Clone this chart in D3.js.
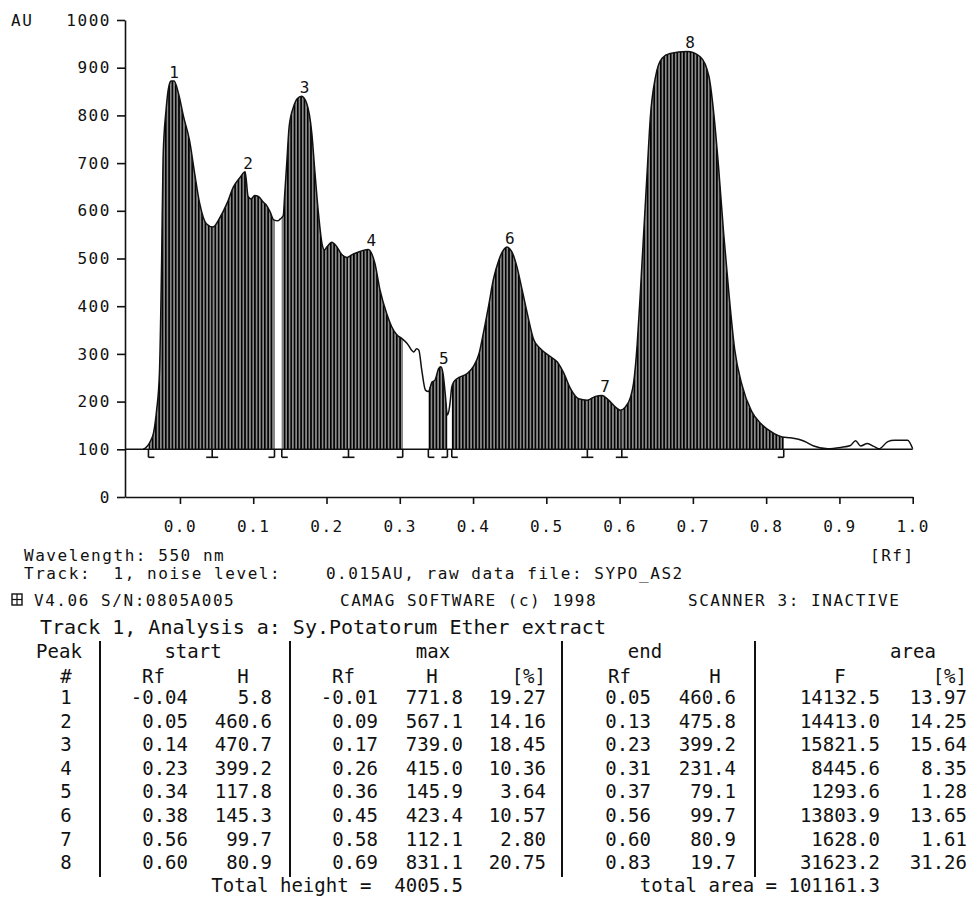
<!DOCTYPE html>
<html>
<head>
<meta charset="utf-8">
<script src="https://cdn.jsdelivr.net/npm/d3@7"></script>
<style>
  html, body { margin: 0; padding: 0; background: #fff; }
  svg { display: block; }
  .plot text { font-family: "DejaVu Sans Mono", monospace; font-size: 16px; letter-spacing: 1.55px; fill: #111; white-space: pre; }
  .report text { font-family: "DejaVu Sans Mono", monospace; font-size: 19px; fill: #111; white-space: pre; }
</style>
</head>
<body>
<div id="chart"></div>
<script>

// densitogram trace of track 1 (Rf, AU)
const scanRf = [
  -0.050, -0.046, -0.040, -0.036, -0.032, -0.028, -0.025, -0.023, -0.019, -0.015, -0.012, -0.008, -0.002,
  0.005, 0.013, 0.020, 0.027, 0.036, 0.045, 0.055, 0.064, 0.073, 0.082, 0.089, 0.093, 0.097, 0.102,
  0.107, 0.114, 0.118, 0.123, 0.128, 0.134, 0.137, 0.141, 0.143, 0.146, 0.149, 0.155, 0.160, 0.166,
  0.173, 0.180, 0.184, 0.189, 0.194, 0.197, 0.201, 0.207, 0.213, 0.220, 0.228, 0.235, 0.243, 0.250,
  0.257, 0.266, 0.273, 0.282, 0.289, 0.296, 0.303, 0.310, 0.319, 0.323, 0.326, 0.330, 0.335, 0.339,
  0.344, 0.348, 0.353, 0.356, 0.359, 0.362, 0.365, 0.368, 0.369, 0.371, 0.374, 0.378, 0.392, 0.401,
  0.408, 0.414, 0.421, 0.428, 0.435, 0.442, 0.446, 0.453, 0.460, 0.467, 0.474, 0.483, 0.492, 0.506,
  0.515, 0.524, 0.533, 0.544, 0.556, 0.567, 0.576, 0.585, 0.594, 0.601, 0.608, 0.615, 0.619, 0.624,
  0.628, 0.632, 0.638, 0.642, 0.649, 0.658, 0.669, 0.692, 0.710, 0.722, 0.729, 0.735, 0.742, 0.749,
  0.757, 0.767, 0.780, 0.792, 0.811, 0.822, 0.833, 0.852, 0.865, 0.884, 0.902, 0.915, 0.922, 0.929,
  0.938, 0.947, 0.954, 0.966, 0.975, 0.993, 1.000
]
const scanAU = [
  100, 104, 118, 135, 180, 260, 497, 713, 811, 862, 872, 872, 846,
  797, 748, 679, 615, 573, 566, 587, 615, 650, 670, 682, 630, 625, 632,
  630, 618, 612, 598, 581, 579, 583, 590, 636, 706, 776, 818, 835, 840,
  825, 762, 685, 595, 530, 518, 525, 534, 527, 510, 502, 508, 513, 517,
  519, 490, 434, 385, 357, 340, 332, 322, 304, 311, 308, 266, 224, 221,
  241, 245, 269, 273, 259, 217, 172, 190, 203, 231, 242, 248, 259, 275,
  300, 343, 399, 458, 496, 519, 524, 514, 482, 434, 385, 329, 311, 294,
  283, 259, 227, 206, 203, 211, 213, 203, 189, 182, 189, 210, 238, 320,
  420, 530, 693, 797, 881, 920, 930, 934, 923, 881, 797, 693, 553, 430,
  310, 235, 180, 155, 133, 126, 124, 117, 107, 101, 104, 108, 118, 107,
  112, 106, 101, 116, 119, 119, 101
]

// integration windows, from the bracket marks under the baseline
const bandStart = [-0.043, 0.044, 0.139, 0.230, 0.339, 0.371, 0.556, 0.603]
const bandEnd   = [ 0.044, 0.129, 0.230, 0.304, 0.365, 0.556, 0.603, 0.824]
const baselineAU = 100

// axis ticks
const yTicks = [0, 100, 200, 300, 400, 500, 600, 700, 800, 900, 1000]
const xTicks = [0.0, 0.1, 0.2, 0.3, 0.4, 0.5, 0.6, 0.7, 0.8, 0.9, 1.0]

// report table
const peakNo   = [1, 2, 3, 4, 5, 6, 7, 8]
const startRf  = [-0.04, 0.05, 0.14, 0.23, 0.34, 0.38, 0.56, 0.60]
const startH   = [5.8, 460.6, 470.7, 399.2, 117.8, 145.3, 99.7, 80.9]
const maxRf    = [-0.01, 0.09, 0.17, 0.26, 0.36, 0.45, 0.58, 0.69]
const maxH     = [771.8, 567.1, 739.0, 415.0, 145.9, 423.4, 112.1, 831.1]
const maxPct   = [19.27, 14.16, 18.45, 10.36, 3.64, 10.57, 2.80, 20.75]
const endRf    = [0.05, 0.13, 0.23, 0.31, 0.37, 0.56, 0.60, 0.83]
const endH     = [460.6, 475.8, 399.2, 231.4, 79.1, 99.7, 80.9, 19.7]
const areaF    = [14132.5, 14413.0, 15821.5, 8445.6, 1293.6, 13803.9, 1628.0, 31623.2]
const areaPct  = [13.97, 14.25, 15.64, 8.35, 1.28, 13.65, 1.61, 31.26]
const totalHeight = 4005.5
const totalArea = 101161.3


const width = 979, height = 897

const svg = d3.select('#chart').append('svg')
  .attr('width', width)
  .attr('height', height)
  .attr('viewBox', `0 0 ${width} ${height}`)

// vertical hatching used by the plotter for integrated peaks
const defs = svg.append('defs')
const hatch = defs.append('pattern')
  .attr('id', 'hatch')
  .attr('patternUnits', 'userSpaceOnUse')
  .attr('width', 3.3)
  .attr('height', 20)
hatch.append('rect').attr('width', 3.3).attr('height', 20).attr('fill', '#8a8a8a')
hatch.append('line')
  .attr('x1', 0.8).attr('x2', 0.8).attr('y1', 0).attr('y2', 20)
  .attr('stroke', '#000').attr('stroke-width', 1.6)


///////////////////////////////////////////////////////////////////////////////
//// PLOT
///////////////////////////////////////////////////////////////////////////////

const plot = svg.append('g').attr('class', 'plot')

const x = d3.scaleLinear().domain([-0.075, 1.0]).range([125, 912.7])
const y = d3.scaleLinear().domain([0, 1000]).range([497, 20])

const scan = scanRf.map((rf, i) => ({ rf: rf, au: scanAU[i] }))

// linear read-out of the trace at any Rf
const bisect = d3.bisector(d => d.rf).left
function valueAt(rf) {
  const i = bisect(scan, rf)
  if(i <= 0) return scan[0].au
  if(i >= scan.length) return scan[scan.length - 1].au
  const a = scan[i - 1], b = scan[i]
  return a.au + (b.au - a.au) * (rf - a.rf) / (b.rf - a.rf)
}

const bands = bandStart.map((s, i) => {
  const e = bandEnd[i]
  return [{ rf: s, au: valueAt(s) }]
    .concat(scan.filter(d => d.rf > s && d.rf < e))
    .concat([{ rf: e, au: valueAt(e) }])
})

const area = d3.area()
  .x(d => x(d.rf))
  .y0(y(baselineAU))
  .y1(d => y(d.au))
  .curve(d3.curveMonotoneX)

const line = d3.line()
  .x(d => x(d.rf))
  .y(d => y(d.au))
  .curve(d3.curveMonotoneX)

// hatched peak areas
plot.selectAll('path.band')
  .data(bands)
  .join('path')
  .attr('class', 'band')
  .attr('d', area)
  .attr('fill', 'url(#hatch)')

// baseline
plot.append('line')
  .attr('x1', x.range()[0]).attr('x2', x(1.0))
  .attr('y1', y(baselineAU)).attr('y2', y(baselineAU))
  .attr('stroke', '#111').attr('stroke-width', 1.6)

// trace
plot.append('path')
  .datum(scan)
  .attr('d', line)
  .attr('fill', 'none')
  .attr('stroke', '#111')
  .attr('stroke-width', 1.5)

// start / end brackets under the baseline
let marks = []
bandStart.forEach(s => marks.push({ rf: s, left: false, right: true }))
bandEnd.forEach(e => {
  const same = marks.find(m => Math.abs(m.rf - e) < 0.002)
  if(same) same.left = true
  else marks.push({ rf: e, left: true, right: false })
})

const yb = y(baselineAU), markLen = 8, barLen = 6
const markG = plot.selectAll('g.mark')
  .data(marks)
  .join('g')
  .attr('class', 'mark')
  .attr('transform', d => `translate(${x(d.rf)},${yb})`)
markG.append('line')
  .attr('x1', 0).attr('x2', 0).attr('y1', 0).attr('y2', markLen)
  .attr('stroke', '#111').attr('stroke-width', 1.6)
markG.append('line')
  .attr('x1', d => d.left ? -barLen : 0)
  .attr('x2', d => d.right ? barLen : 0)
  .attr('y1', markLen).attr('y2', markLen)
  .attr('stroke', '#111').attr('stroke-width', 1.6)

// peak numbers above each maximum
const tops = bands.map((b, i) => Object.assign({ n: peakNo[i] }, d3.greatest(b, d => d.au)))
plot.selectAll('text.peak')
  .data(tops)
  .join('text')
  .attr('class', 'peak')
  .attr('x', d => x(d.rf) + 3)
  .attr('y', d => y(d.au) - 3)
  .attr('text-anchor', 'middle')
  .style('letter-spacing', '0px')
  .text(d => d.n)

// axes
const yAxis = d3.axisLeft(y).tickValues(yTicks).tickSize(8).tickSizeOuter(0).tickPadding(6)
  .tickFormat(d3.format('d'))
const xAxis = d3.axisBottom(x).tickValues(xTicks).tickSize(7).tickSizeOuter(0).tickPadding(17)
  .tickFormat(d3.format('.1f'))

const gy = plot.append('g').attr('transform', `translate(${x.range()[0]},0)`).call(yAxis)
const gx = plot.append('g').attr('transform', `translate(0,${y(0)})`).call(xAxis)
gy.selectAll('path, line').attr('stroke', '#111').attr('stroke-width', 1.6)
gx.selectAll('path, line').attr('stroke', '#111').attr('stroke-width', 1.6)

plot.append('text').attr('x', 11).attr('y', y(1000) + 6).text('AU')
plot.append('text').attr('x', x(1.0) + 2).attr('y', 561).attr('text-anchor', 'end').text('[Rf]')

// instrument info lines
const info = plot.append('g')
info.append('text').attr('x', 24).attr('y', 561).text('Wavelength: 550 nm')
info.append('text').attr('x', 24).attr('y', 579).text('Track:  1, noise level:    0.015AU, raw data file: SYPO_AS2')
info.append('text').attr('x', 34).attr('y', 606).text('V4.06 S/N:0805A005')
info.append('text').attr('x', 340).attr('y', 606).text('CAMAG SOFTWARE (c) 1998')
info.append('text').attr('x', 688).attr('y', 606).text('SCANNER 3: INACTIVE')

// little disk icon
const icon = plot.append('g').attr('transform', 'translate(12,594)')
icon.append('rect').attr('width', 10).attr('height', 11).attr('fill', 'none').attr('stroke', '#111').attr('stroke-width', 1.4)
icon.append('line').attr('x1', 5).attr('x2', 5).attr('y1', 0).attr('y2', 11).attr('stroke', '#111').attr('stroke-width', 1.2)
icon.append('line').attr('x1', 0).attr('x2', 10).attr('y1', 5.5).attr('y2', 5.5).attr('stroke', '#111').attr('stroke-width', 1.2)


///////////////////////////////////////////////////////////////////////////////
//// REPORT TABLE
///////////////////////////////////////////////////////////////////////////////

const report = svg.append('g').attr('class', 'report')

report.append('text').attr('x', 40).attr('y', 634).style('font-size', '20px')
  .text('Track 1, Analysis a: Sy.Potatorum Ether extract')

const headY = 658, subY = 683, rowY0 = 704, rowStep = 23.6

// column dividers
const dividers = [100, 290, 562, 755]
report.selectAll('line.div')
  .data(dividers)
  .join('line')
  .attr('class', 'div')
  .attr('x1', d => d).attr('x2', d => d)
  .attr('y1', 641).attr('y2', 877)
  .attr('stroke', '#111').attr('stroke-width', 2)

const heads = [
  { t: 'Peak', x: 59, y: headY, a: 'middle' },
  { t: 'start', x: 193, y: headY, a: 'middle' },
  { t: 'max', x: 433, y: headY, a: 'middle' },
  { t: 'end', x: 645, y: headY, a: 'middle' },
  { t: 'area', x: 913, y: headY, a: 'middle' },
  { t: '#', x: 66, y: subY, a: 'middle' },
  { t: 'Rf', x: 142, y: subY, a: 'start' },
  { t: 'H', x: 243, y: subY, a: 'middle' },
  { t: 'Rf', x: 332, y: subY, a: 'start' },
  { t: 'H', x: 432, y: subY, a: 'middle' },
  { t: '[%]', x: 546, y: subY, a: 'end' },
  { t: 'Rf', x: 608, y: subY, a: 'start' },
  { t: 'H', x: 715, y: subY, a: 'middle' },
  { t: 'F', x: 840, y: subY, a: 'middle' },
  { t: '[%]', x: 967, y: subY, a: 'end' }
]
report.selectAll('text.head')
  .data(heads)
  .join('text')
  .attr('class', 'head')
  .attr('x', d => d.x).attr('y', d => d.y)
  .attr('text-anchor', d => d.a)
  .text(d => d.t)

const columns = [
  { v: peakNo,  f: d3.format('d'),   x: 66,  a: 'middle' },
  { v: startRf, f: d3.format('.2f'), x: 188, a: 'end' },
  { v: startH,  f: d3.format('.1f'), x: 272, a: 'end' },
  { v: maxRf,   f: d3.format('.2f'), x: 378, a: 'end' },
  { v: maxH,    f: d3.format('.1f'), x: 463, a: 'end' },
  { v: maxPct,  f: d3.format('.2f'), x: 546, a: 'end' },
  { v: endRf,   f: d3.format('.2f'), x: 651, a: 'end' },
  { v: endH,    f: d3.format('.1f'), x: 736, a: 'end' },
  { v: areaF,   f: d3.format('.1f'), x: 880, a: 'end' },
  { v: areaPct, f: d3.format('.2f'), x: 967, a: 'end' }
]
columns.forEach(c => {
  report.append('g').selectAll('text')
    .data(c.v)
    .join('text')
    .attr('x', c.x)
    .attr('y', (d, i) => rowY0 + i * rowStep)
    .attr('text-anchor', c.a)
    .text(d => c.f(d).replace('\u2212', '-'))
})

report.append('text').attr('x', 463).attr('y', 892).attr('text-anchor', 'end')
  .text(`Total height =  ${d3.format('.1f')(totalHeight)}`)
report.append('text').attr('x', 880).attr('y', 892).attr('text-anchor', 'end')
  .text(`total area = ${d3.format('.1f')(totalArea)}`)

</script>
</body>
</html>
